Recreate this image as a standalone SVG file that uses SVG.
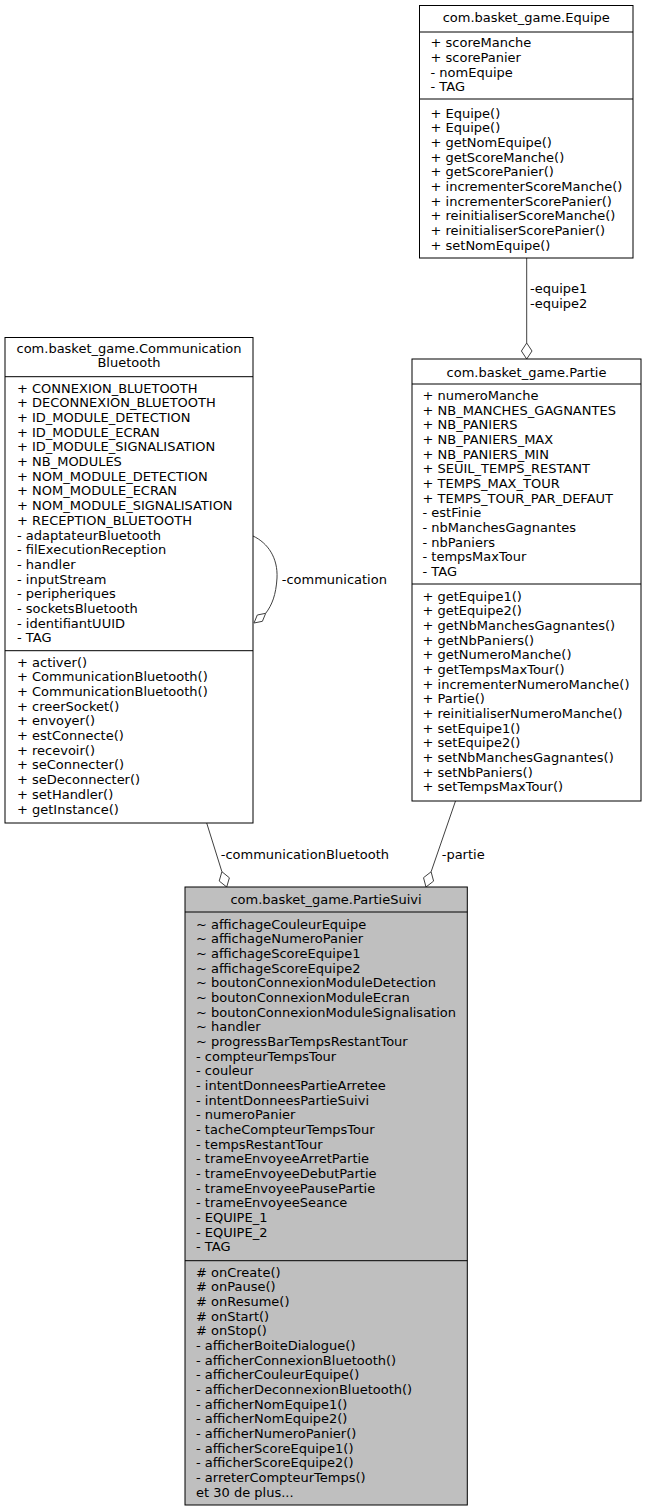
<svg xmlns="http://www.w3.org/2000/svg" width="647" height="1512" viewBox="0 0 647 1512">
<style>
text{font-family:"DejaVu Sans","Liberation Sans",sans-serif;font-size:13px;fill:#000}
.t{text-anchor:middle}
.box{fill:#fff;stroke:#000;stroke-width:1}
.main{fill:#bfbfbf;stroke:#000;stroke-width:1}
.sep{stroke:#000;stroke-width:1}
.edge{fill:none;stroke:#404040;stroke-width:1}
.dia{fill:#fff;stroke:#404040;stroke-width:1}
</style>
<rect width="647" height="1512" fill="#fff"/>
<g id="connectors">
<path class="edge" d="M526.7,258 L526.7,343"/>
<polygon class="dia" points="526.7,359 532,351 526.7,343 521.4,351"/>
<text x="530" y="292.8">-equipe1</text>
<text x="530" y="307.5">-equipe2</text>
<path class="edge" d="M253,536 C268,543 278,558 277,578 C276,595 272,605 265.7,613.3"/>
<polygon class="dia" points="254,623 262.4,621.3 265.7,613.3 257.3,615"/>
<text x="281.7" y="583.5">-communication</text>
<path class="edge" d="M206.7,823 L221.9,871.7"/>
<polygon class="dia" points="226.7,887 229.4,877.8 221.9,871.7 219.2,881"/>
<text x="220.7" y="858.5">-communicationBluetooth</text>
<path class="edge" d="M455.5,801 L431.1,871.8"/>
<polygon class="dia" points="426,887 433.6,881.1 431.1,871.8 423.5,877.7"/>
<text x="441.7" y="858.5">-partie</text>
</g>
<g id="Equipe">
<rect class="box" x="419.5" y="5.5" width="213.5" height="252.5"/>
<line class="sep" x1="419.5" y1="32" x2="633" y2="32"/>
<line class="sep" x1="419.5" y1="99" x2="633" y2="99"/>
<text class="t" x="526.2" y="21.5">com.basket_game.Equipe</text>
<text y="47.2"><tspan x="430.5">+ scoreManche</tspan><tspan x="430.5" dy="14.67">+ scorePanier</tspan><tspan x="430.5" dy="14.67">- nomEquipe</tspan><tspan x="430.5" dy="14.67">- TAG</tspan></text>
<text y="117.5"><tspan x="430.5">+ Equipe()</tspan><tspan x="430.5" dy="14.67">+ Equipe()</tspan><tspan x="430.5" dy="14.67">+ getNomEquipe()</tspan><tspan x="430.5" dy="14.67">+ getScoreManche()</tspan><tspan x="430.5" dy="14.67">+ getScorePanier()</tspan><tspan x="430.5" dy="14.67">+ incrementerScoreManche()</tspan><tspan x="430.5" dy="14.67">+ incrementerScorePanier()</tspan><tspan x="430.5" dy="14.67">+ reinitialiserScoreManche()</tspan><tspan x="430.5" dy="14.67">+ reinitialiserScorePanier()</tspan><tspan x="430.5" dy="14.67">+ setNomEquipe()</tspan></text>
</g>
<g id="CommunicationBluetooth">
<rect class="box" x="5" y="337.5" width="248" height="485.5"/>
<line class="sep" x1="5" y1="376.7" x2="253" y2="376.7"/>
<line class="sep" x1="5" y1="650.7" x2="253" y2="650.7"/>
<text class="t" x="129" y="352.8">com.basket_game.Communication</text>
<text class="t" x="129" y="367.2">Bluetooth</text>
<text y="392.8"><tspan x="17">+ CONNEXION_BLUETOOTH</tspan><tspan x="17" dy="14.67">+ DECONNEXION_BLUETOOTH</tspan><tspan x="17" dy="14.67">+ ID_MODULE_DETECTION</tspan><tspan x="17" dy="14.67">+ ID_MODULE_ECRAN</tspan><tspan x="17" dy="14.67">+ ID_MODULE_SIGNALISATION</tspan><tspan x="17" dy="14.67">+ NB_MODULES</tspan><tspan x="17" dy="14.67">+ NOM_MODULE_DETECTION</tspan><tspan x="17" dy="14.67">+ NOM_MODULE_ECRAN</tspan><tspan x="17" dy="14.67">+ NOM_MODULE_SIGNALISATION</tspan><tspan x="17" dy="14.67">+ RECEPTION_BLUETOOTH</tspan><tspan x="17" dy="14.67">- adaptateurBluetooth</tspan><tspan x="17" dy="14.67">- filExecutionReception</tspan><tspan x="17" dy="14.67">- handler</tspan><tspan x="17" dy="14.67">- inputStream</tspan><tspan x="17" dy="14.67">- peripheriques</tspan><tspan x="17" dy="14.67">- socketsBluetooth</tspan><tspan x="17" dy="14.67">- identifiantUUID</tspan><tspan x="17" dy="14.67">- TAG</tspan></text>
<text y="666.8"><tspan x="17">+ activer()</tspan><tspan x="17" dy="14.67">+ CommunicationBluetooth()</tspan><tspan x="17" dy="14.67">+ CommunicationBluetooth()</tspan><tspan x="17" dy="14.67">+ creerSocket()</tspan><tspan x="17" dy="14.67">+ envoyer()</tspan><tspan x="17" dy="14.67">+ estConnecte()</tspan><tspan x="17" dy="14.67">+ recevoir()</tspan><tspan x="17" dy="14.67">+ seConnecter()</tspan><tspan x="17" dy="14.67">+ seDeconnecter()</tspan><tspan x="17" dy="14.67">+ setHandler()</tspan><tspan x="17" dy="14.67">+ getInstance()</tspan></text>
</g>
<g id="Partie">
<rect class="box" x="412" y="359" width="229" height="442"/>
<line class="sep" x1="412" y1="384" x2="641" y2="384"/>
<line class="sep" x1="412" y1="584" x2="641" y2="584"/>
<text class="t" x="526.5" y="376.5">com.basket_game.Partie</text>
<text y="400"><tspan x="422.5">+ numeroManche</tspan><tspan x="422.5" dy="14.67">+ NB_MANCHES_GAGNANTES</tspan><tspan x="422.5" dy="14.67">+ NB_PANIERS</tspan><tspan x="422.5" dy="14.67">+ NB_PANIERS_MAX</tspan><tspan x="422.5" dy="14.67">+ NB_PANIERS_MIN</tspan><tspan x="422.5" dy="14.67">+ SEUIL_TEMPS_RESTANT</tspan><tspan x="422.5" dy="14.67">+ TEMPS_MAX_TOUR</tspan><tspan x="422.5" dy="14.67">+ TEMPS_TOUR_PAR_DEFAUT</tspan><tspan x="422.5" dy="14.67">- estFinie</tspan><tspan x="422.5" dy="14.67">- nbManchesGagnantes</tspan><tspan x="422.5" dy="14.67">- nbPaniers</tspan><tspan x="422.5" dy="14.67">- tempsMaxTour</tspan><tspan x="422.5" dy="14.67">- TAG</tspan></text>
<text y="600.5"><tspan x="422.5">+ getEquipe1()</tspan><tspan x="422.5" dy="14.67">+ getEquipe2()</tspan><tspan x="422.5" dy="14.67">+ getNbManchesGagnantes()</tspan><tspan x="422.5" dy="14.67">+ getNbPaniers()</tspan><tspan x="422.5" dy="14.67">+ getNumeroManche()</tspan><tspan x="422.5" dy="14.67">+ getTempsMaxTour()</tspan><tspan x="422.5" dy="14.67">+ incrementerNumeroManche()</tspan><tspan x="422.5" dy="14.67">+ Partie()</tspan><tspan x="422.5" dy="14.67">+ reinitialiserNumeroManche()</tspan><tspan x="422.5" dy="14.67">+ setEquipe1()</tspan><tspan x="422.5" dy="14.67">+ setEquipe2()</tspan><tspan x="422.5" dy="14.67">+ setNbManchesGagnantes()</tspan><tspan x="422.5" dy="14.67">+ setNbPaniers()</tspan><tspan x="422.5" dy="14.67">+ setTempsMaxTour()</tspan></text>
</g>
<g id="PartieSuivi">
<rect class="main" x="185" y="887" width="282.3" height="618"/>
<line class="sep" x1="185" y1="912" x2="467.3" y2="912"/>
<line class="sep" x1="185" y1="1260.7" x2="467.3" y2="1260.7"/>
<text class="t" x="326" y="903.5">com.basket_game.PartieSuivi</text>
<text y="928.5"><tspan x="196">~ affichageCouleurEquipe</tspan><tspan x="196" dy="14.67">~ affichageNumeroPanier</tspan><tspan x="196" dy="14.67">~ affichageScoreEquipe1</tspan><tspan x="196" dy="14.67">~ affichageScoreEquipe2</tspan><tspan x="196" dy="14.67">~ boutonConnexionModuleDetection</tspan><tspan x="196" dy="14.67">~ boutonConnexionModuleEcran</tspan><tspan x="196" dy="14.67">~ boutonConnexionModuleSignalisation</tspan><tspan x="196" dy="14.67">~ handler</tspan><tspan x="196" dy="14.67">~ progressBarTempsRestantTour</tspan><tspan x="196" dy="14.67">- compteurTempsTour</tspan><tspan x="196" dy="14.67">- couleur</tspan><tspan x="196" dy="14.67">- intentDonneesPartieArretee</tspan><tspan x="196" dy="14.67">- intentDonneesPartieSuivi</tspan><tspan x="196" dy="14.67">- numeroPanier</tspan><tspan x="196" dy="14.67">- tacheCompteurTempsTour</tspan><tspan x="196" dy="14.67">- tempsRestantTour</tspan><tspan x="196" dy="14.67">- trameEnvoyeeArretPartie</tspan><tspan x="196" dy="14.67">- trameEnvoyeeDebutPartie</tspan><tspan x="196" dy="14.67">- trameEnvoyeePausePartie</tspan><tspan x="196" dy="14.67">- trameEnvoyeeSeance</tspan><tspan x="196" dy="14.67">- EQUIPE_1</tspan><tspan x="196" dy="14.67">- EQUIPE_2</tspan><tspan x="196" dy="14.67">- TAG</tspan></text>
<text y="1276.5"><tspan x="196"># onCreate()</tspan><tspan x="196" dy="14.67"># onPause()</tspan><tspan x="196" dy="14.67"># onResume()</tspan><tspan x="196" dy="14.67"># onStart()</tspan><tspan x="196" dy="14.67"># onStop()</tspan><tspan x="196" dy="14.67">- afficherBoiteDialogue()</tspan><tspan x="196" dy="14.67">- afficherConnexionBluetooth()</tspan><tspan x="196" dy="14.67">- afficherCouleurEquipe()</tspan><tspan x="196" dy="14.67">- afficherDeconnexionBluetooth()</tspan><tspan x="196" dy="14.67">- afficherNomEquipe1()</tspan><tspan x="196" dy="14.67">- afficherNomEquipe2()</tspan><tspan x="196" dy="14.67">- afficherNumeroPanier()</tspan><tspan x="196" dy="14.67">- afficherScoreEquipe1()</tspan><tspan x="196" dy="14.67">- afficherScoreEquipe2()</tspan><tspan x="196" dy="14.67">- arreterCompteurTemps()</tspan><tspan x="196" dy="14.67">et 30 de plus...</tspan></text>
</g>
</svg>
